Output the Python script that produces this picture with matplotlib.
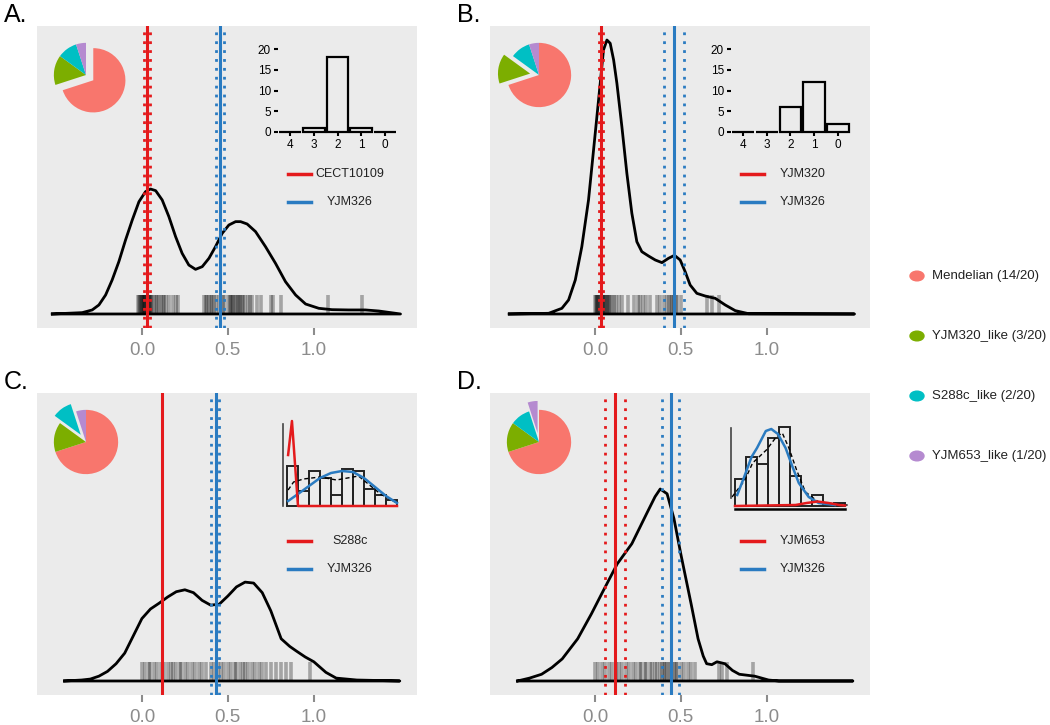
import matplotlib
matplotlib.use('Agg')
import matplotlib.pyplot as plt
from matplotlib.lines import Line2D

plt.rcParams.update({
    'font.family': ['Liberation Sans', 'DejaVu Sans'],
    'font.size': 10,
})

W, H = 1050, 725

# ---- data ----
pie_labels = ['Mendelian (14/20)', 'YJM320_like (3/20)', 'S288c_like (2/20)', 'YJM653_like (1/20)']
pie_sizes = [14, 3, 2, 1]
pie_colors = ['#F8766D', '#7CAE00', '#00BFC4', '#B58AD0']

panel_names = ['A.', 'B.', 'C.', 'D.']
strain_red = ['CECT10109', 'YJM320', 'S288c', 'YJM653']
strain_blue = ['YJM326', 'YJM326', 'YJM326', 'YJM326']
exploded = [0, 1, 2, 3]

# parental positions: (solid, dotted low, dotted high)
red_pos = [(0.03, 0.015, 0.045), (0.035, 0.025, 0.045), (0.116, None, None), (0.116, 0.058, 0.174)]
blue_pos = [(0.453, 0.43, 0.477), (0.46, 0.40, 0.52), (0.43, 0.40, 0.45), (0.442, 0.39, 0.49)]

dens_x_a = [-0.521, -0.347, -0.289, -0.25, -0.211, -0.173, -0.134, -0.095, -0.056, -0.017, 0.021,
            0.05, 0.08, 0.118, 0.157, 0.196, 0.234, 0.273, 0.312, 0.351, 0.39, 0.428, 0.467,
            0.506, 0.545, 0.574, 0.612, 0.661, 0.719, 0.777, 0.835, 0.894, 0.952, 1.029, 1.106,
            1.203, 1.3, 1.378, 1.504]
dens_y_a = [0, 0.014, 0.042, 0.094, 0.198, 0.354, 0.545, 0.771, 0.979, 1.17, 1.274,
            1.302, 1.285, 1.188, 1.014, 0.806, 0.632, 0.51, 0.465, 0.493, 0.58, 0.701, 0.84,
            0.927, 0.962, 0.962, 0.9375, 0.858, 0.701, 0.528, 0.337, 0.198, 0.104, 0.059, 0.045,
            0.042, 0.042, 0.031, 0]
dens_x_b = [-0.498, -0.269, -0.192, -0.153, -0.114, -0.076, -0.037, 0.002, 0.031, 0.05, 0.07,
            0.089, 0.109, 0.128, 0.157, 0.186, 0.215, 0.244, 0.273, 0.312, 0.351, 0.39, 0.428,
            0.463, 0.496, 0.525, 0.554, 0.593, 0.641, 0.7, 0.758, 0.816, 0.894, 1.51]
dens_y_b = [0, 0.007, 0.059, 0.146, 0.354, 0.701, 1.188, 1.882, 2.403, 2.75, 2.854,
            2.82, 2.646, 2.403, 1.951, 1.465, 1.049, 0.753, 0.649, 0.604, 0.5625, 0.535, 0.58,
            0.611, 0.5625, 0.441, 0.302, 0.215, 0.1875, 0.163, 0.094, 0.035, 0.003, 0]
dens_x_c = [-0.45, -0.35, -0.3, -0.25, -0.2, -0.15, -0.1, -0.05, 0.0, 0.05, 0.1, 0.15, 0.2, 0.25,
            0.3, 0.35, 0.4, 0.45, 0.5, 0.55, 0.6, 0.65, 0.7, 0.75, 0.81, 0.86, 0.9, 0.95, 1.0,
            1.07, 1.13, 1.25, 1.5]
dens_y_c = [0, 0.01, 0.02, 0.05, 0.10, 0.18, 0.29, 0.47, 0.65, 0.75, 0.81, 0.875, 0.93, 0.95,
            0.92, 0.84, 0.79, 0.80, 0.885, 0.98, 1.03, 1.02, 0.92, 0.73, 0.44, 0.36, 0.31, 0.25,
            0.20, 0.09, 0.03, 0.01, 0]
dens_x_d = [-0.45, -0.38, -0.31, -0.25, -0.19, -0.1, -0.02, 0.04, 0.13, 0.215, 0.3, 0.35, 0.38,
            0.42, 0.46, 0.5, 0.53, 0.56, 0.6, 0.63, 0.65, 0.68, 0.71, 0.756, 0.8, 0.84, 0.93,
            1.01, 1.07, 1.5]
dens_y_d = [0, 0.03, 0.07, 0.14, 0.23, 0.44, 0.70, 0.91, 1.22, 1.43, 1.74, 1.92, 2.0,
            1.95, 1.69, 1.32, 1.06, 0.80, 0.44, 0.26, 0.18, 0.17, 0.20, 0.18, 0.11, 0.07, 0.05,
            0.01, 0, 0]

rug_a = [-0.02, -0.015, -0.01, -0.005, 0.0, 0.0, 0.005, 0.01, 0.015, 0.02, 0.02, 0.025, 0.03,
         0.035, 0.04, 0.045, 0.05, 0.055, 0.06, 0.07, 0.08, 0.09, 0.10, 0.11, 0.12, 0.13, 0.14,
         0.16, 0.18, 0.2, 0.21, 0.36, 0.37, 0.38, 0.39, 0.40, 0.41, 0.42, 0.43, 0.45, 0.47,
         0.48, 0.50, 0.51, 0.52, 0.525, 0.53, 0.54, 0.55, 0.56, 0.565, 0.57, 0.58, 0.59, 0.60,
         0.62, 0.63, 0.64, 0.67, 0.69, 0.75, 0.76, 0.81, 1.08, 1.28]
rug_b = [0.0, 0.005, 0.01, 0.015, 0.02, 0.025, 0.03, 0.035, 0.04, 0.045, 0.05, 0.055, 0.06,
         0.065, 0.07, 0.075, 0.08, 0.09, 0.1, 0.11, 0.12, 0.14, 0.16, 0.19, 0.23, 0.25, 0.26,
         0.28, 0.3, 0.32, 0.36, 0.38, 0.40, 0.42, 0.43, 0.44, 0.45, 0.46, 0.47, 0.48, 0.5,
         0.65, 0.68, 0.72]
rug_c = [0.0, 0.02, 0.04, 0.05, 0.07, 0.09, 0.11, 0.13, 0.15, 0.17, 0.18, 0.2, 0.22, 0.23, 0.25,
         0.27, 0.29, 0.31, 0.33, 0.35, 0.37, 0.40, 0.42, 0.44, 0.46, 0.48, 0.5, 0.52, 0.54, 0.55,
         0.57, 0.59, 0.6, 0.62, 0.64, 0.66, 0.68, 0.70, 0.72, 0.75, 0.78, 0.81, 0.84, 0.87, 0.98]
rug_d = [0.0, 0.02, 0.04, 0.06, 0.08, 0.1, 0.12, 0.14, 0.16, 0.18, 0.2, 0.22, 0.24, 0.26, 0.27,
         0.29, 0.3, 0.32, 0.33, 0.35, 0.36, 0.38, 0.39, 0.4, 0.41, 0.42, 0.43, 0.44, 0.45, 0.46,
         0.47, 0.48, 0.5, 0.52, 0.54, 0.56, 0.58, 0.72, 0.74, 0.77, 0.92]

dens_x = [dens_x_a, dens_x_b, dens_x_c, dens_x_d]
dens_y = [dens_y_a, dens_y_b, dens_y_c, dens_y_d]
rugs = [rug_a, rug_b, rug_c, rug_d]

# inset bar charts (A, B)
bar_cats = ['4', '3', '2', '1', '0']
bars_a = [0, 1, 18, 1, 0]
bars_b = [0, 0, 6, 12, 2]

# inset histograms (C, D), ten bins
hist_c = [4.0, 1.5, 3.5, 2.8, 1.1, 3.7, 3.5, 1.7, 1.1, 0.6]
hist_d = [2.7, 4.9, 4.2, 6.8, 7.9, 3.0, 0, 1.1, 0, 0.3]
red_c_x = [0.1, 0.45, 1.0, 10]
red_c_y = [5.1, 8.5, 0, 0]
blue_c_x = [0.1, 1, 2, 3, 4, 5, 6, 7, 8, 9, 10]
blue_c_y = [0.5, 1.2, 2.0, 2.8, 3.3, 3.5, 3.4, 2.8, 1.9, 1.0, 0.3]
dash_c_x = [0.1, 0.6, 1.5, 3, 4.5, 5.5, 6.5, 7.5, 8.5, 10]
dash_c_y = [1.6, 2.4, 2.7, 2.9, 2.6, 2.8, 3.0, 2.1, 1.2, 0.3]
red_d_x = [0, 5.5, 6.5, 7.5, 8.5, 9.5, 10]
red_d_y = [0, 0.1, 0.3, 0.45, 0.3, 0.1, 0.05]
blue_d_x = [0.2, 0.8, 1.5, 2.0, 2.8, 3.3, 3.9, 4.6, 5.2, 5.8, 6.7, 7.6, 9.1]
blue_d_y = [1.1, 2.8, 4.9, 5.8, 7.5, 7.7, 7.2, 5.8, 4.0, 2.3, 0.9, 0.3, 0.1]
dash_d_x = [-0.27, 0.9, 1.6, 2.85, 3.75, 4.3, 4.9, 5.6, 6.4, 7.6, 10, 10.3]
dash_d_y = [0.9, 2.6, 4.3, 5.6, 6.9, 7.3, 5.8, 3.6, 1.4, 0.4, 0.1, 0.1]

RED = '#E41A1C'
BLUE = '#2A7BC1'
BG = '#EBEBEB'


def px_axes(left, top, width, height):
    return fig.add_axes([left / W, 1 - (top + height) / H, width / W, height / H])


fig = plt.figure(figsize=(W / 100, H / 100), dpi=100)

panels = [(37, 26), (490, 26), (37, 393), (490, 393)]
label_pos = [(4, 3), (457, 3), (4, 370), (457, 370)]

for i, (pl, pt) in enumerate(panels):
    ax = px_axes(pl, pt, 380, 302)
    ax.set_facecolor(BG)
    for s in ax.spines.values():
        s.set_visible(False)
    ax.set_xlim(-0.61, 1.60)
    ax.set_ylim(-0.146, 3.0)
    ax.set_yticks([])
    ax.set_xticks([0, 0.5, 1.0])
    ax.set_xticklabels(['0.0', '0.5', '1.0'])
    ax.tick_params(axis='x', colors='#8C8C8C', length=5, width=1.5, labelsize=13.5, pad=5)

    # rug
    ax.vlines(rugs[i], 0, 0.2, color='black', alpha=0.3, lw=2.6, zorder=2)
    # density outline (closed along baseline)
    xs = dens_x[i] + [dens_x[i][0]]
    ys = dens_y[i] + [0]
    ax.plot(xs, ys, color='black', lw=2, zorder=3, solid_joinstyle='round')

    # parental lines
    r, rl, rh = red_pos[i]
    b, bl, bh = blue_pos[i]
    for v in (rl, rh):
        if v is not None:
            ax.axvline(v, color=RED, lw=2, ls=(0, (1, 2.2)), zorder=4)
    ax.axvline(r, color=RED, lw=2.2, zorder=4)
    for v in (bl, bh):
        ax.axvline(v, color=BLUE, lw=2, ls=(0, (1, 2.2)), zorder=4)
    ax.axvline(b, color=BLUE, lw=2.2, zorder=4)

    fig.text(label_pos[i][0] / W, 1 - label_pos[i][1] / H, panel_names[i],
             fontsize=18, va='top', ha='left')

    # small legend inside panel
    for k, (name, col) in enumerate([(strain_red[i], RED), (strain_blue[i], BLUE)]):
        yy = pt + 148 + 28 * k
        fig.lines.append(Line2D([(pl + 251) / W, (pl + 274) / W], [1 - yy / H, 1 - yy / H],
                                color=col, lw=2.5, transform=fig.transFigure))
        fig.text((pl + 313) / W, 1 - yy / H, name, fontsize=9, ha='center', va='center',
                 color='#222222')

    # pie
    pax = px_axes(pl + 49 - 45, pt + 49 - 45, 90, 90)
    explode = [0.28 if j == exploded[i] else 0 for j in range(4)]
    pax.pie(pie_sizes, colors=pie_colors, startangle=90, counterclock=False,
            explode=explode, radius=1)
    pax.set_xlim(-1.4, 1.4)
    pax.set_ylim(-1.4, 1.4)
    pax.set_aspect('equal')
    pax.axis('off')

# inset bar charts
for i, vals in [(0, bars_a), (1, bars_b)]:
    pl, pt = panels[i]
    bax = px_axes(pl + 241, pt + 23, 119, 83)
    bax.patch.set_alpha(0)
    bax.bar(range(5), vals, width=0.92, facecolor='none', edgecolor='black', lw=1.6,
            clip_on=False)
    bax.set_xlim(-0.5, 4.5)
    bax.set_ylim(0, 20)
    for s in bax.spines.values():
        s.set_visible(False)
    bax.set_yticks([0, 5, 10, 15, 20])
    bax.set_xticks(range(5))
    bax.set_xticklabels(bar_cats)
    bax.tick_params(length=3, width=1.5, labelsize=8.5, pad=2, colors='black')

# inset histograms
hist_sets = [
    (2, 250, hist_c, red_c_x, red_c_y, blue_c_x, blue_c_y, dash_c_x, dash_c_y),
    (3, 245, hist_d, red_d_x, red_d_y, blue_d_x, blue_d_y, dash_d_x, dash_d_y),
]
for i, off, hv, rx, ry, bx, by, dx, dy in hist_sets:
    pl, pt = panels[i]
    hax = px_axes(pl + off - 11, pt + 113 - 90, 132, 100)
    hax.patch.set_alpha(0)
    hax.set_xlim(-1, 11)
    hax.set_ylim(-1, 9)
    hax.axis('off')
    hax.bar([k + 0.5 for k in range(10)], hv, width=1.0, facecolor='none',
            edgecolor='#222222', lw=1.4)
    hax.plot(dx, dy, color='black', lw=1, ls=(0, (3, 2)))
    hax.plot(bx, by, color=BLUE, lw=1.8)
    hax.plot(rx, ry, color=RED, lw=1.8)
    if i == 2:
        hax.plot([-0.36, -0.36], [0, 8.2], color='#444444', lw=1.2)
    else:
        hax.plot([-0.36, -0.36], [0.8, 7.8], color='#444444', lw=1.2)
        hax.plot([0, 10], [-0.3, -0.3], color='black', lw=1.8)

# right legend
leg_y = [276, 336, 396, 456]
for lab, col, yy in zip(pie_labels, pie_colors, leg_y):
    fig.patches.append(plt.Circle((917 / W, 1 - yy / H), 7 / W, color=col,
                                  transform=fig.transFigure))
    fig.text(932 / W, 1 - yy / H, lab, fontsize=9.5, va='center', ha='left', color='#222222')

fig.savefig('out.png', dpi=100)
